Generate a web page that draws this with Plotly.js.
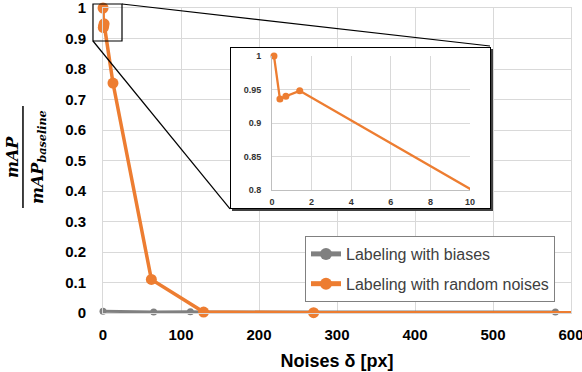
<!DOCTYPE html>
<html>
<head>
<meta charset="utf-8">
<script src="https://cdn.plot.ly/plotly-3.0.1.min.js"></script>
<style>
  body { margin: 0; background: #fff; }
  #wrap { position: relative; width: 582px; height: 372px; }
  #plot { position: absolute; left: 0; top: 0; width: 582px; height: 372px; }
  #inset {
    position: absolute; left: 230px; top: 47px; width: 259px; height: 160px;
    border: 1px solid #000; box-shadow: 2px 2px 0 #404040; background: #fff;
  }
</style>
</head>
<body>
<div id="wrap">
  <div id="plot"></div>
  <div id="inset"></div>
</div>
<script>
// series
let biasNoise = [0, 65, 112, 128, 580];
let biasRatio = [0.006, 0.003, 0.004, 0.003, 0.003];

let randomNoise = [0.1, 0.4, 0.7, 1.4, 12.8, 62, 129, 270, 1000];
let randomRatio = [1, 0.936, 0.94, 0.948, 0.754, 0.11, 0.003, 0.001, 0];

let seriesNames = ["Labeling with biases", "Labeling with random noises"];

let mainYTicks = [0, 0.1, 0.2, 0.3, 0.4, 0.5, 0.6, 0.7, 0.8, 0.9, 1];
let mainXTicks = [0, 100, 200, 300, 400, 500, 600];
let insetXTicks = [0, 2, 4, 6, 8, 10];
let insetYTicks = [0.8, 0.85, 0.9, 0.95, 1];

let grey = "#808080";
let orange = "#ED7D31";
let gridColor = "#d9d9d9";

// main chart traces
let biasTrace = {
    x: biasNoise,
    y: biasRatio,
    name: seriesNames[0],
    legendgroup: "a",
    mode: "lines+markers",
    line: { color: grey, width: 3 },
    marker: { color: grey, size: 7 },
    cliponaxis: false
};

let randomTrace = {
    x: randomNoise,
    y: randomRatio,
    name: seriesNames[1],
    legendgroup: "b",
    mode: "lines+markers",
    line: { color: orange, width: 3.5 },
    marker: { color: orange, size: 11 },
    cliponaxis: false
};

let tickFont = { family: "Liberation Sans, Arial, sans-serif", size: 15, color: "#000", weight: "bold" };

let layout = {
    width: 582,
    height: 372,
    margin: { l: 103, r: 11, t: 8, b: 59 },
    paper_bgcolor: "#fff",
    plot_bgcolor: "#fff",
    showlegend: true,
    legend: {
        x: 0.4316, y: 0.2525, xanchor: "left", yanchor: "top",
        bgcolor: "#fff", bordercolor: "#808080", borderwidth: 1,
        traceorder: "grouped", tracegroupgap: 6,
        itemsizing: "constant",
        font: { family: "Liberation Sans, Arial, sans-serif", size: 16, color: "#404040" }
    },
    xaxis: {
        range: [0, 600],
        tickvals: mainXTicks,
        showgrid: true, gridcolor: gridColor, gridwidth: 1,
        zeroline: false,
        showline: true, linecolor: gridColor, mirror: true,
        ticks: "", ticklabelstandoff: 8, ticklabeloverflow: "allow",
        tickfont: tickFont,
        title: {
            text: "Noises δ [px]",
            standoff: 12,
            font: { family: "Liberation Sans, Arial, sans-serif", size: 18, color: "#000", weight: "bold" }
        }
    },
    yaxis: {
        range: [0, 1],
        tickvals: mainYTicks,
        showgrid: true, gridcolor: gridColor, gridwidth: 1,
        zeroline: false,
        showline: true, linecolor: gridColor, mirror: true,
        ticks: "", ticklabelstandoff: 13, ticklabeloverflow: "allow",
        tickfont: tickFont
    },
    // the fraction used as y title
    annotations: [
        {
            xref: "paper", yref: "paper", x: -0.1923, y: 0.5115,
            xanchor: "center", yanchor: "middle", textangle: -90, showarrow: false,
            text: "<b><i>mAP</i></b>",
            font: { family: "DejaVu Serif, serif", size: 16, color: "#000" }
        },
        {
            xref: "paper", yref: "paper", x: -0.1368, y: 0.5115,
            xanchor: "center", yanchor: "middle", textangle: -90, showarrow: false,
            text: "<b><i>mAP<sub>baseline</sub></i></b>",
            font: { family: "DejaVu Serif, serif", size: 16, color: "#000" }
        }
    ],
    shapes: [
        { type: "line", xref: "paper", yref: "paper", x0: -0.171, x1: -0.171, y0: 0.344, y1: 0.679,
          line: { color: "#000", width: 1.5 } },
        // zoom window and leader lines
        { type: "rect", xref: "paper", yref: "paper", x0: -0.0214, x1: 0.0406, y0: 0.8918, y1: 1.0131,
          line: { color: "#000", width: 1.2 }, layer: "above" },
        { type: "line", xref: "paper", yref: "paper", x0: 0.0406, y0: 1.0131, x1: 0.8269, y1: 0.8754,
          line: { color: "#000", width: 1.2 }, layer: "above" },
        { type: "line", xref: "paper", yref: "paper", x0: -0.0214, y0: 0.8918, x1: 0.2714, y1: 0.341,
          line: { color: "#000", width: 1.2 }, layer: "above" }
    ]
};

Plotly.newPlot("plot", [biasTrace, randomTrace], layout, { displayModeBar: false, staticPlot: true });

// inset: same random-noise series, zoomed to the first 10 px
let insetTrace = {
    x: randomNoise,
    y: randomRatio,
    mode: "lines+markers",
    line: { color: orange, width: 2.3 },
    marker: { color: orange, size: 7 },
    cliponaxis: false,
    showlegend: false
};

let insetFont = { family: "Liberation Sans, Arial, sans-serif", size: 9, color: "#333", weight: "bold" };

let insetLayout = {
    width: 259,
    height: 160,
    margin: { l: 41, r: 20, t: 8, b: 18 },
    paper_bgcolor: "#fff",
    plot_bgcolor: "#fff",
    showlegend: false,
    xaxis: {
        range: [0, 10], tickvals: insetXTicks,
        showgrid: true, gridcolor: gridColor, zeroline: false,
        showline: true, linecolor: "#bfbfbf",
        ticks: "", ticklabelstandoff: 3, ticklabeloverflow: "allow", tickfont: insetFont
    },
    yaxis: {
        range: [0.8, 1], tickvals: insetYTicks,
        showgrid: true, gridcolor: gridColor, zeroline: false,
        showline: true, linecolor: "#bfbfbf",
        ticks: "", ticklabelstandoff: 8, ticklabeloverflow: "allow", tickfont: insetFont
    }
};

Plotly.newPlot("inset", [insetTrace], insetLayout, { displayModeBar: false, staticPlot: true });
</script>
</body>
</html>
